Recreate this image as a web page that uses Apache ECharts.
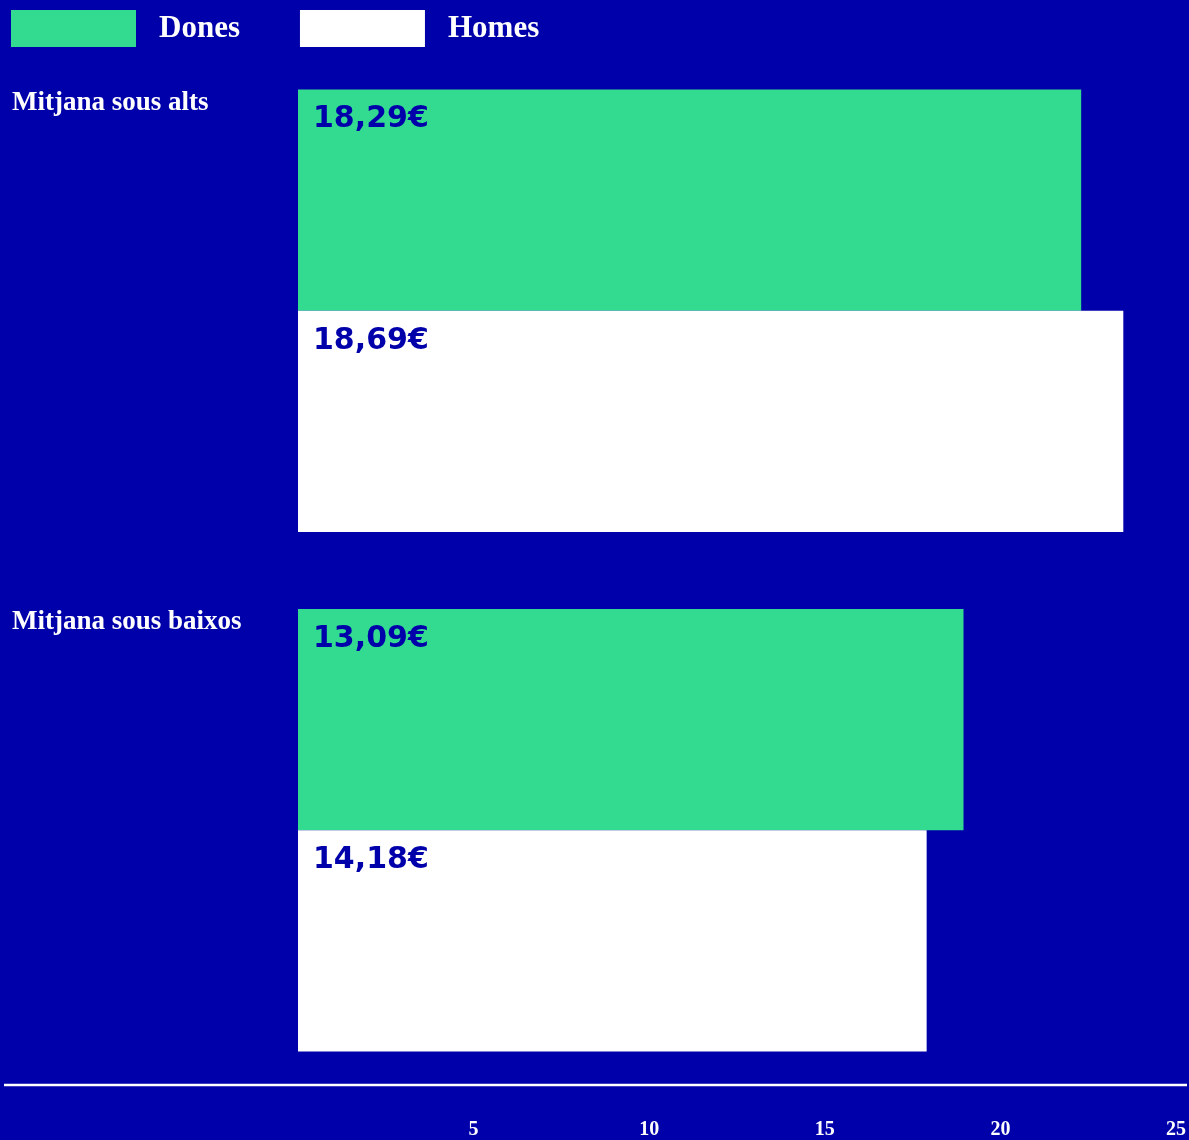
<!DOCTYPE html>
<html>
<head>
<meta charset="utf-8">
<script src="https://cdn.jsdelivr.net/npm/echarts@6/dist/echarts.min.js"></script>
<style>
html,body{margin:0;padding:0;background:#0000AA;}
#chart{width:1189px;height:1140px;}
</style>
</head>
<body>
<div id="chart"></div>
<script>
// Data
var categories = ['Mitjana sous alts', 'Mitjana sous baixos'];
var seriesNames = ['Dones', 'Homes'];
// bar lengths as drawn against the axis
var donesValues = [22.3, 18.95];
var homesValues = [23.5, 17.9];
// labels printed inside the bars
var donesLabels = ['18,29€', '13,09€'];
var homesLabels = ['18,69€', '14,18€'];
var xTicks = [5, 10, 15, 20, 25];

var BG = '#0000AA';
var GREEN = '#33DB90';
var WHITE = '#FFFFFF';

var chart = echarts.init(document.getElementById('chart'));

function labelCfg(texts) {
  return {
    show: true,
    position: 'insideTopLeft',
    distance: 15,
    formatter: function (p) { return texts[p.dataIndex]; },
    color: BG,
    fontFamily: 'DejaVu Sans',
    fontWeight: 'bold',
    fontSize: 30
  };
}

var option = {
  backgroundColor: BG,
  animation: false,
  legend: {
    left: 11,
    top: 10,
    padding: 0,
    itemWidth: 125,
    itemHeight: 37,
    itemGap: 60,
    icon: 'rect',
    data: seriesNames,
    textStyle: {
      color: WHITE,
      fontFamily: 'Liberation Serif',
      fontWeight: 'bold',
      fontSize: 31,
      padding: [6, 0, 0, 18]
    }
  },
  grid: { left: 298, right: 13, top: 51, bottom: 47, containLabel: false },
  xAxis: {
    type: 'value',
    min: 0,
    max: 25,
    interval: 5,
    axisLine: { show: false },
    axisTick: { show: false },
    splitLine: { show: false },
    axisLabel: {
      margin: 30,
      color: WHITE,
      fontFamily: 'Liberation Serif',
      fontWeight: 'bold',
      fontSize: 20,
      formatter: function (v) { return xTicks.indexOf(v) >= 0 ? String(v) : ''; }
    }
  },
  yAxis: {
    type: 'category',
    inverse: true,
    data: categories,
    axisLine: { show: false },
    axisTick: { show: false },
    splitLine: { show: false },
    axisLabel: {
      align: 'left',
      margin: 286,
      verticalAlign: 'middle',
      formatter: function (v) { return '{t|' + v + '}\n{s|}'; },
      rich: {
        t: {
          color: WHITE,
          fontFamily: 'Liberation Serif',
          fontWeight: 'bold',
          fontSize: 27,
          lineHeight: 28
        },
        s: { height: 416, lineHeight: 416 }
      }
    }
  },
  series: [
    {
      name: 'Dones',
      type: 'bar',
      data: donesValues,
      barGap: '0%',
      barCategoryGap: '14.8%',
      itemStyle: { color: GREEN },
      label: labelCfg(donesLabels)
    },
    {
      name: 'Homes',
      type: 'bar',
      data: homesValues,
      itemStyle: { color: WHITE },
      label: labelCfg(homesLabels)
    }
  ],
  graphic: [
    {
      type: 'line',
      shape: { x1: 4, y1: 1085, x2: 1187, y2: 1085 },
      style: { stroke: WHITE, lineWidth: 2.5 }
    }
  ]
};
chart.setOption(option);
</script>
</body>
</html>
